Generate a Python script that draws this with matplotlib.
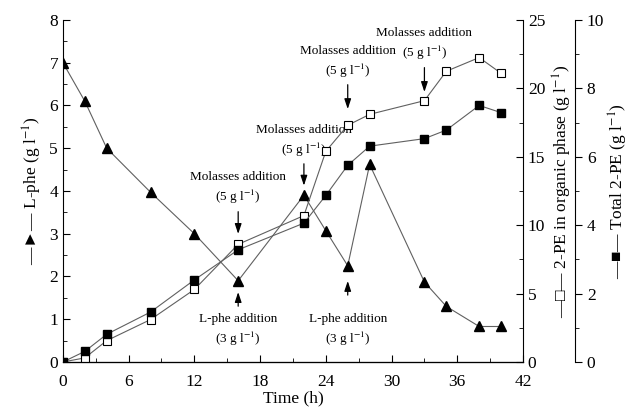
import matplotlib
matplotlib.use("Agg")
import matplotlib.pyplot as plt
from matplotlib.ticker import MultipleLocator

plt.rcParams['font.family'] = ['Liberation Serif', 'DejaVu Sans']
plt.rcParams['mathtext.fontset'] = 'stix'

time_h = [0, 2, 4, 8, 12, 16, 22, 24, 26, 28, 33, 35, 38, 40]
lphe = [7.0, 6.1, 5.0, 3.97, 3.0, 1.9, 3.9, 3.07, 2.25, 4.62, 1.87, 1.3, 0.83, 0.83]
pe_org = [0.0, 0.3, 1.56, 3.1, 5.3, 8.6, 10.7, 15.4, 17.3, 18.1, 19.1, 21.25, 22.25, 21.1]
pe_total = [0.0, 0.31, 0.81, 1.46, 2.4, 3.28, 4.06, 4.87, 5.75, 6.31, 6.53, 6.78, 7.5, 7.29]

fig = plt.figure(figsize=(6.29, 4.07), dpi=100)
ax = fig.add_axes([0.100, 0.1106, 0.7315, 0.8404])
ax2 = ax.twinx()
ax3 = ax.twinx()

lc = '#606060'
ax.plot(time_h, lphe, color=lc, lw=0.8, marker='^', ms=7, mfc='black', mec='black', zorder=3)
ax2.plot(time_h, pe_org, color=lc, lw=0.8, marker='s', ms=6, mfc='white', mec='black', mew=0.8, zorder=3)
ax3.plot(time_h, pe_total, color=lc, lw=0.8, marker='s', ms=6, mfc='black', mec='black', zorder=3)

ax.set_xlim(0, 42)
ax.set_ylim(0, 8)
ax2.set_ylim(0, 25)
ax3.set_ylim(0, 10)

for a in (ax, ax2, ax3):
    a.spines['top'].set_visible(False)
ax.spines['right'].set_visible(False)
ax2.spines['left'].set_visible(False)
ax3.spines['left'].set_visible(False)
ax3.spines['right'].set_position(('axes', 1.113))

ax.xaxis.set_major_locator(MultipleLocator(6))
ax.xaxis.set_minor_locator(MultipleLocator(3))
ax.yaxis.set_major_locator(MultipleLocator(1))
ax.yaxis.set_minor_locator(MultipleLocator(0.5))
ax2.yaxis.set_major_locator(MultipleLocator(5))
ax2.yaxis.set_minor_locator(MultipleLocator(2.5))
ax3.yaxis.set_major_locator(MultipleLocator(2))
ax3.yaxis.set_minor_locator(MultipleLocator(1))

fs = 12.5
ax.tick_params(axis='both', which='both', direction='in', labelsize=fs)
ax.tick_params(which='major', length=5)
ax.tick_params(which='minor', length=3)
ax.tick_params(axis='x', which='major', pad=9)
ax2.tick_params(axis='y', which='both', direction='in', labelsize=fs)
ax2.tick_params(which='major', length=5)
ax2.tick_params(which='minor', length=3)
ax3.tick_params(axis='y', which='both', direction='out', labelsize=fs)
ax3.tick_params(which='major', length=5)
ax3.tick_params(which='minor', length=3)

ax.set_xlabel('Time (h)', fontsize=fs, labelpad=0)
ax.set_ylabel('—►— L-phe (g l$^{-1}$)', fontsize=fs)
ax2.set_ylabel('—□— 2-PE in organic phase (g l$^{-1}$)', fontsize=fs)
ax3.set_ylabel('—■— Total 2-PE (g l$^{-1}$)', fontsize=fs, labelpad=2)

afs = 9.5
ap = dict(arrowstyle='-|>,head_length=0.6,head_width=0.2', color='black', lw=0.9, mutation_scale=10)
# molasses additions: (t, tip y, tail y, text y) in L-phe units
mol_pos = [(16, 2.93, 3.58, 3.85), (22, 4.06, 4.70, 4.95), (26, 5.85, 6.55, 6.80), (33, 6.25, 6.95, 7.22)]
for t, tip, tail, ty in mol_pos:
    ax.annotate('', xy=(t, tip), xytext=(t, tail), arrowprops=ap)
    ax.text(t, ty, '(5 g l$^{-1}$)', ha='center', va='center', fontsize=afs)
    ax.text(t, ty + 0.47, 'Molasses addition', ha='center', va='center', fontsize=afs)
lphe_pos = [(16, 1.70, 1.24, 1.0), (26, 1.96, 1.50, 1.0)]
for t, tip, tail, ty in lphe_pos:
    ax.annotate('', xy=(t, tip), xytext=(t, tail), arrowprops=ap)
    ax.text(t, ty, 'L-phe addition', ha='center', va='center', fontsize=afs)
    ax.text(t, ty - 0.45, '(3 g l$^{-1}$)', ha='center', va='center', fontsize=afs)

fig.savefig('out.png', dpi=100)
